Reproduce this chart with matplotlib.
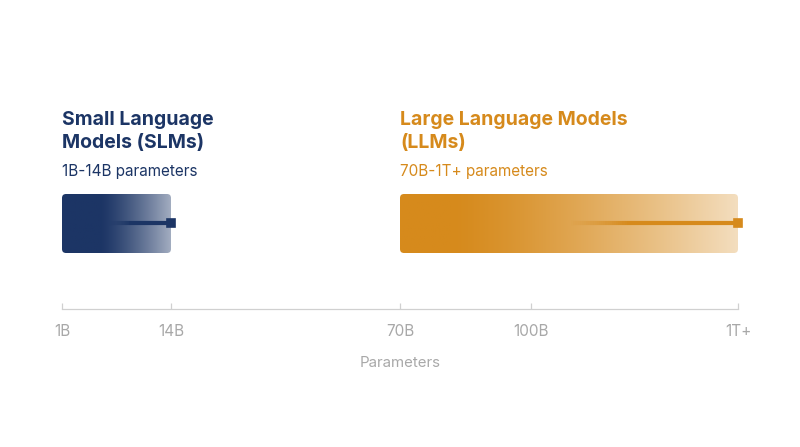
import numpy as np
import matplotlib
matplotlib.use("Agg")
import matplotlib.pyplot as plt
from matplotlib.patches import FancyBboxPatch
from matplotlib.collections import LineCollection
from matplotlib.colors import to_rgb
from matplotlib.transforms import IdentityTransform

plt.rcParams['font.family'] = ['Inter', 'DejaVu Sans']

# data
tick_values = [1, 14, 70, 100, 1000]
tick_labels = ["1B", "14B", "70B", "100B", "1T+"]
groups = ["Small Language\nModels (SLMs)", "Large Language Models\n(LLMs)"]
subtitles = ["1B-14B parameters", "70B-1T+ parameters"]
ranges_lo = [1, 70]
ranges_hi = [14, 1000]

# style
NAVY = "#1c3565"
ORANGE = "#d68a1c"
colors = [NAVY, ORANGE]
fade_from = [0.35, 0.15]      # where the bar starts to fade (fraction of width)
fade_amount = [0.60, 0.72]    # how much white at the right end
line_from = [0.42, 0.50]

# uneven axis: piecewise linear between the tick anchors
anchor_pos = np.array([0, 109, 338, 469, 676], dtype=float)


def fwd(v):
    return np.interp(np.asarray(v, dtype=float), tick_values, anchor_pos)


def inv(p):
    return np.interp(np.asarray(p, dtype=float), anchor_pos, tick_values)


fig = plt.figure(figsize=(8, 4.47), dpi=100)
ax = fig.add_axes([62 / 800, 0, 676 / 800, 1])
ax.set_xscale('function', functions=(fwd, inv))
ax.set_xlim(1, 1000)
ax.set_ylim(447, 0)
ax.patch.set_alpha(0)

for s in ['top', 'left', 'right']:
    ax.spines[s].set_visible(False)
ax.spines['bottom'].set_position(('data', 309))
ax.spines['bottom'].set_color('#d0d0d0')
ax.spines['bottom'].set_linewidth(0.9)
ax.set_xticks(tick_values)
ax.set_xticklabels(tick_labels)
ax.tick_params(axis='x', direction='in', length=4.5, width=0.9, color='#d0d0d0',
               labelcolor='#a8a8a8', labelsize=11, pad=11)
ax.set_yticks([])

bar_top, bar_bot, line_y = 194, 253, 223

for i in range(2):
    lo, hi, col = ranges_lo[i], ranges_hi[i], colors[i]
    base = np.array(to_rgb(col))

    # gradient, sampled densely in data so it is even in screen space
    xs = np.linspace(lo, hi, 3000)
    f = (fwd(xs) - fwd(lo)) / (fwd(hi) - fwd(lo))
    t = np.clip((f - fade_from[i]) / (1 - fade_from[i]), 0, 1)
    w = fade_amount[i] * t ** 1.3
    img = base[None, :] * (1 - w[:, None]) + w[:, None]
    im = ax.imshow(img[None, :, :], extent=(lo, hi, bar_bot, bar_top),
                   aspect='auto', interpolation='bilinear', zorder=1)

    p0 = ax.transData.transform((lo, bar_bot))
    p1 = ax.transData.transform((hi, bar_top))
    x0, x1 = min(p0[0], p1[0]), max(p0[0], p1[0])
    y0, y1 = min(p0[1], p1[1]), max(p0[1], p1[1])
    clip = FancyBboxPatch((x0, y0), x1 - x0, y1 - y0,
                          boxstyle="round,pad=0,rounding_size=4",
                          transform=IdentityTransform(), facecolor='none',
                          edgecolor='none')
    im.set_clip_path(clip)

    # inner line fading in, ending in a square marker
    lx = inv(np.linspace(fwd(lo) + line_from[i] * (fwd(hi) - fwd(lo)), fwd(hi), 80))
    pts = np.column_stack([lx, np.full_like(lx, line_y)])
    segs = np.stack([pts[:-1], pts[1:]], axis=1)
    a = np.clip(np.linspace(0, 1, len(segs)) / 0.35, 0, 1)
    seg_cols = np.column_stack([np.tile(base, (len(segs), 1)), a])
    ax.add_collection(LineCollection(segs, colors=seg_cols, linewidths=3.0,
                                     capstyle='butt', zorder=3))
    ax.plot([hi], [line_y], marker='s', markersize=5.8, color=col,
            markeredgewidth=1.2, markeredgecolor=col, zorder=4, clip_on=False)

    # titles
    ax.text(lo, 111, groups[i], color=col, fontsize=14, fontweight='bold',
            va='top', ha='left', linespacing=1.38)
    ax.text(lo, 176, subtitles[i], color=col, fontsize=11, va='baseline',
            ha='left')

fig.text(0.5, 1 - 363 / 447, "Parameters", color='#a8a8a8', fontsize=10.8,
         ha='center', va='center')

fig.savefig("out.png", dpi=100, facecolor='white')
